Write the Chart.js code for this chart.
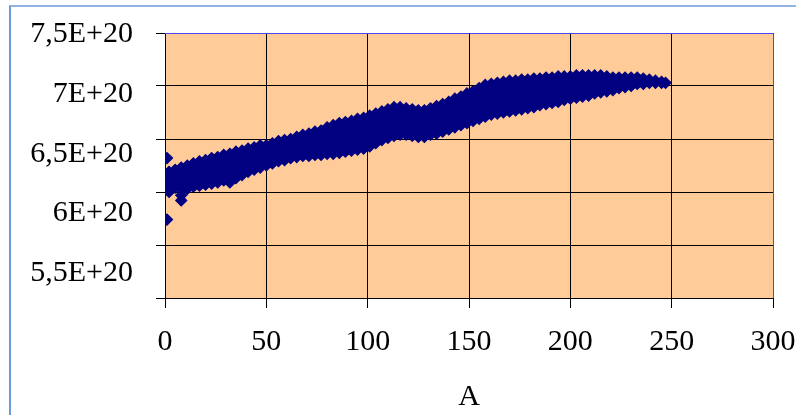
<!DOCTYPE html>
<html>
<head>
<meta charset="utf-8">
<script src="https://cdn.jsdelivr.net/npm/chart.js@4.4.0/dist/chart.umd.min.js"></script>
<style>
  html, body { margin: 0; padding: 0; background: #fff; overflow: hidden; }
  #frame { position: absolute; left: 9px; top: 5px; width: 787px; height: 410px;
           border-left: 2px solid #6b9bd8; border-top: 2px solid #8fb4e3; }
  #wrap { position: absolute; left: 0; top: 0; width: 796px; height: 415px; }
</style>
</head>
<body>
<div id="frame"></div>
<div id="wrap"><canvas id="chart" width="796" height="415"></canvas></div>
<script>
// masa A (eje x)
const massA = [1, 2, 5, 8, 11, 14, 17, 20, 23, 26, 29, 32, 35, 38, 41, 44, 47, 50, 53, 56,
  59, 62, 65, 68, 71, 74, 77, 80, 83, 86, 89, 92, 95, 98, 101, 104, 107, 110, 113, 116,
  119, 122, 125, 128, 131, 134, 137, 140, 143, 146, 149, 152, 155, 158, 161, 164, 167, 170,
  173, 176, 179, 182, 185, 188, 191, 194, 197, 200, 203, 206, 209, 212, 215, 218, 221, 224,
  227, 230, 233, 236, 239, 242, 245, 247];

const values = [
  [6.32, 6.16, 6.10, 6.04, 5.74],
  [6.19, 6.14, 6.09, 6.04, 6.00],
  [6.21, 6.16, 6.11, 6.07, 6.04],
  [6.23, 6.18, 6.13, 6.08, 6.03, 5.97, 5.92],
  [6.25, 6.20, 6.14, 6.09, 6.03],
  [6.27, 6.22, 6.16, 6.11, 6.05],
  [6.29, 6.23, 6.18, 6.12, 6.06],
  [6.30, 6.24, 6.19, 6.13, 6.07],
  [6.32, 6.27, 6.22, 6.17, 6.12, 6.08],
  [6.33, 6.28, 6.23, 6.18, 6.14, 6.09],
  [6.35, 6.30, 6.25, 6.20, 6.15, 6.11],
  [6.36, 6.31, 6.25, 6.20, 6.14, 6.09],
  [6.38, 6.33, 6.28, 6.23, 6.18, 6.13],
  [6.39, 6.33, 6.28, 6.22, 6.16],
  [6.41, 6.35, 6.30, 6.24, 6.19],
  [6.42, 6.37, 6.32, 6.26, 6.21],
  [6.44, 6.39, 6.33, 6.28, 6.23],
  [6.44, 6.39, 6.34, 6.30, 6.25],
  [6.46, 6.41, 6.36, 6.32, 6.27],
  [6.48, 6.43, 6.38, 6.34, 6.29],
  [6.49, 6.44, 6.40, 6.35, 6.30],
  [6.50, 6.46, 6.41, 6.37, 6.32],
  [6.52, 6.47, 6.43, 6.38, 6.33],
  [6.54, 6.49, 6.44, 6.39, 6.34],
  [6.55, 6.50, 6.45, 6.39, 6.34],
  [6.57, 6.51, 6.46, 6.40, 6.35],
  [6.58, 6.52, 6.47, 6.41, 6.35],
  [6.61, 6.56, 6.51, 6.46, 6.41, 6.36],
  [6.63, 6.58, 6.52, 6.47, 6.41, 6.36],
  [6.65, 6.59, 6.54, 6.48, 6.43, 6.37],
  [6.66, 6.60, 6.55, 6.49, 6.44, 6.38],
  [6.67, 6.61, 6.56, 6.50, 6.45, 6.39],
  [6.69, 6.63, 6.57, 6.52, 6.46, 6.40],
  [6.70, 6.64, 6.58, 6.53, 6.47, 6.41],
  [6.72, 6.66, 6.60, 6.55, 6.49, 6.43],
  [6.74, 6.68, 6.63, 6.57, 6.52, 6.46],
  [6.76, 6.70, 6.65, 6.60, 6.54, 6.49],
  [6.78, 6.72, 6.67, 6.62, 6.56, 6.51],
  [6.80, 6.74, 6.69, 6.64, 6.58, 6.53],
  [6.80, 6.75, 6.70, 6.64, 6.59, 6.54],
  [6.79, 6.74, 6.69, 6.64, 6.59, 6.54],
  [6.78, 6.73, 6.68, 6.63, 6.58, 6.53],
  [6.77, 6.72, 6.67, 6.62, 6.57, 6.52],
  [6.77, 6.72, 6.67, 6.62, 6.57, 6.52],
  [6.79, 6.74, 6.69, 6.64, 6.59, 6.54],
  [6.81, 6.76, 6.71, 6.65, 6.60, 6.55],
  [6.83, 6.78, 6.73, 6.67, 6.62, 6.57],
  [6.85, 6.80, 6.74, 6.69, 6.64, 6.59],
  [6.88, 6.83, 6.77, 6.72, 6.66, 6.61],
  [6.90, 6.85, 6.79, 6.74, 6.68, 6.63],
  [6.93, 6.87, 6.82, 6.76, 6.71, 6.65],
  [6.95, 6.89, 6.84, 6.78, 6.73, 6.67],
  [6.98, 6.92, 6.86, 6.81, 6.75, 6.69],
  [7.01, 6.96, 6.91, 6.86, 6.81, 6.76, 6.71],
  [7.02, 6.96, 6.90, 6.85, 6.79, 6.73],
  [7.03, 6.97, 6.91, 6.86, 6.80, 6.74],
  [7.04, 6.98, 6.92, 6.87, 6.81, 6.75],
  [7.05, 6.99, 6.93, 6.88, 6.82, 6.76],
  [7.05, 6.99, 6.94, 6.88, 6.83, 6.77],
  [7.06, 7.00, 6.95, 6.89, 6.84, 6.78],
  [7.06, 7.01, 6.95, 6.90, 6.84, 6.79],
  [7.07, 7.02, 6.96, 6.91, 6.85, 6.80],
  [7.07, 7.02, 6.97, 6.92, 6.87, 6.82],
  [7.08, 7.03, 6.98, 6.93, 6.88, 6.83],
  [7.08, 7.03, 6.98, 6.94, 6.89, 6.84],
  [7.09, 7.04, 6.99, 6.95, 6.90, 6.85],
  [7.09, 7.04, 6.98, 6.93, 6.87],
  [7.09, 7.04, 6.99, 6.93, 6.88],
  [7.10, 7.05, 7.00, 6.94, 6.89],
  [7.10, 7.05, 7.00, 6.95, 6.90],
  [7.10, 7.05, 7.01, 6.96, 6.91],
  [7.10, 7.06, 7.01, 6.97, 6.93],
  [7.10, 7.06, 7.02, 6.98, 6.94],
  [7.09, 7.04, 6.99, 6.95],
  [7.08, 7.04, 7.00, 6.96],
  [7.08, 7.05, 7.01, 6.98],
  [7.08, 7.05, 7.02, 6.99],
  [7.08, 7.04, 7.00],
  [7.08, 7.05, 7.02],
  [7.07, 7.04, 7.02],
  [7.06, 7.03],
  [7.05, 7.03],
  [7.04, 7.03],
  [7.03]
];

const xTicks = [0, 50, 100, 150, 200, 250, 300];
const yGrid = [7.5, 7, 6.5, 6, 5.5, 5];
const yLabels = [7.5, 7, 6.5, 6, 5.5];

const serif = { family: '"Liberation Serif", "Times New Roman", serif', size: 30 };

var points = [];
massA.forEach(function(a, i) {
    values[i].forEach(function(v) {
        points.push({ x: a, y: v });
    });
});

// quitar el relleno automatico que Chart.js deja para las etiquetas
function noPad(s) {
    s.paddingLeft = 0; s.paddingRight = 0; s.paddingTop = 0; s.paddingBottom = 0;
}

// fondo del area de trazado y borde azul arriba / derecha
const plotArea = {
    id: 'plotArea',
    beforeDraw: function(chart) {
        const ctx = chart.ctx, a = chart.chartArea;
        ctx.save();
        ctx.fillStyle = '#ffcc99';
        ctx.fillRect(a.left, a.top, a.right - a.left, a.bottom - a.top);
        ctx.restore();
    },
    afterDraw: function(chart) {
        const ctx = chart.ctx, a = chart.chartArea;
        ctx.save();
        ctx.strokeStyle = '#4646ff';
        ctx.lineWidth = 1;
        ctx.beginPath();
        ctx.moveTo(a.left, Math.round(a.top) + 0.5);
        ctx.lineTo(Math.round(a.right) + 0.5, Math.round(a.top) + 0.5);
        ctx.lineTo(Math.round(a.right) + 0.5, a.bottom);
        ctx.stroke();
        ctx.restore();
    }
};

const ctx = document.getElementById('chart').getContext('2d');
new Chart(ctx, {
    type: 'scatter',
    data: {
        datasets: [{
            data: points,
            pointStyle: 'rectRot',
            pointRadius: 5.3,
            pointBorderWidth: 1.5,
            backgroundColor: '#000080',
            borderColor: '#000080'
        }]
    },
    options: {
        responsive: false,
        animation: false,
        devicePixelRatio: 1,
        layout: { padding: { left: 0, top: 33, right: 23, bottom: 0 } },
        plugins: { legend: { display: false }, tooltip: { enabled: false } },
        scales: {
            x: {
                type: 'linear', min: 0, max: 300,
                afterBuildTicks: function(s) { s.ticks = xTicks.map(function(v) { return { value: v }; }); },
                afterFit: function(s) { s.height = 117; noPad(s); },
                grid: { color: '#000', tickLength: 10 },
                border: { color: '#000' },
                ticks: { font: serif, color: '#000', padding: 16, maxRotation: 0, autoSkip: false },
                title: { display: true, text: 'A', font: serif, color: '#000', padding: 0 }
            },
            y: {
                type: 'linear', position: 'left', weight: 0, min: 5, max: 7.5,
                afterBuildTicks: function(s) { s.ticks = yGrid.map(function(v) { return { value: v }; }); },
                afterFit: function(s) { s.width = 9; noPad(s); },
                grid: { color: '#000', tickLength: 9 },
                border: { color: '#000' },
                ticks: { display: false }
            },
            yl: {
                type: 'linear', position: 'left', weight: 1, min: 5.3092, max: 7.5268,
                afterBuildTicks: function(s) { s.ticks = yLabels.map(function(v) { return { value: v }; }); },
                afterFit: function(s) { s.width = 156; noPad(s); },
                grid: { display: false, drawTicks: false },
                border: { display: false },
                ticks: {
                    font: serif, color: '#000', padding: 23, labelOffset: -2,
                    callback: function(v) { return String(v).replace('.', ',') + 'E+20'; }
                }
            }
        }
    },
    plugins: [plotArea]
});
</script>
</body>
</html>
